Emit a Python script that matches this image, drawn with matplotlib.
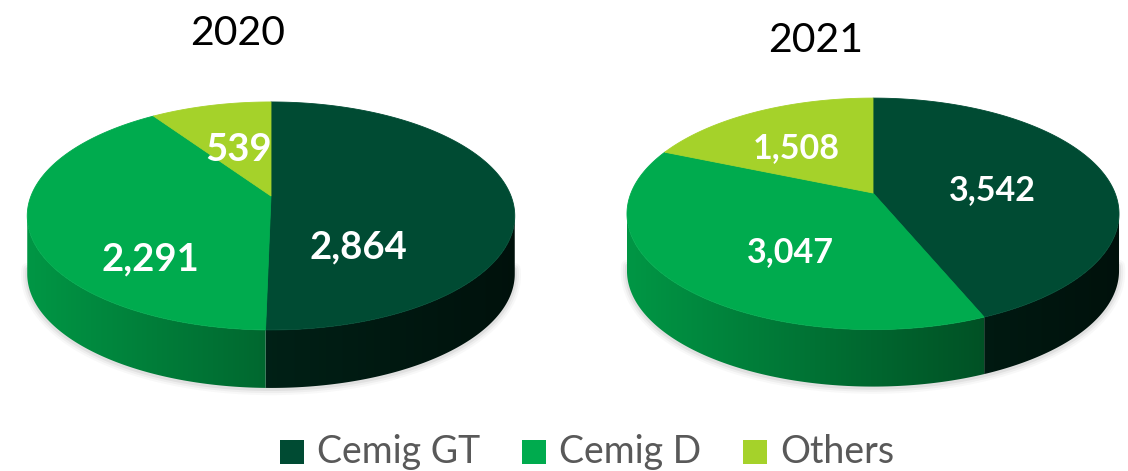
import numpy as np
import matplotlib
matplotlib.use("Agg")
import matplotlib.pyplot as plt
from matplotlib.patches import Polygon, Rectangle
from matplotlib.colors import to_rgb

# data
categories = ["Cemig GT", "Cemig D", "Others"]
years = ["2020", "2021"]
values_2020 = [2864, 2291, 539]
values_2021 = [3542, 3047, 1508]
colors = ["#004B33", "#00AB4E", "#A5D22A"]

# layout, in pixels of the 1128x471 canvas
W, H = 1128, 471
side_dark = [0.72, 1.0, 1.0]
pies = [
    dict(values=values_2020, title=years[0], cx=271, cy=196, sx=240, sy=110.5, p=0.175,
         depth=58, fs=27.5, title_xy=(238, 45), nudges=[(-33, 48), (-3, 45), (0, 0)]),
    dict(values=values_2021, title=years[1], cx=873, cy=193, sx=242, sy=112, p=0.18,
         depth=57, fs=24.5, title_xy=(816, 52), nudges=[(3, 6), (9, 15), (-15, -4)]),
]


def project(theta, r, pie):
    """perspective view of a point of the unit disc"""
    u = r * np.cos(theta)
    v = r * np.sin(theta)
    w = 1 + pie["p"] * v
    return pie["cx"] + pie["sx"] * u / w, pie["cy"] - pie["sy"] * v / w


def draw_pie(ax, pie):
    vals = np.array(pie["values"], dtype=float)
    spans = vals / vals.sum() * 2 * np.pi
    ends = np.pi / 2 - np.cumsum(spans)
    starts = ends + spans
    a = np.arcsin(pie["p"])
    front_lo, front_hi = -np.pi + a, -a
    hw = pie["sx"] / np.sqrt(1 - pie["p"] ** 2)
    depth = pie["depth"]

    # soft shadow under the rim
    th = np.linspace(front_lo - 0.05, front_hi + 0.05, 200)
    x, y = project(th, 1, pie)
    for lw, al in [(9, 0.04), (6, 0.06), (3, 0.09)]:
        ax.plot(x, y + depth + 1, color="#555555", lw=lw, alpha=al,
                solid_capstyle="round", zorder=1)

    # side walls with a left-to-right shade
    t = np.linspace(-1, 1, 256)
    shade = 0.6 - 0.28 * t
    for i, (a0, a1) in enumerate(zip(starts, ends)):
        lo, hi = max(a1, front_lo), min(a0, front_hi)
        if lo >= hi:
            continue
        th = np.linspace(lo, hi, 120)
        x, y = project(th, 1, pie)
        verts = np.r_[np.c_[x, y], np.c_[x[::-1], y[::-1] + depth]]
        poly = Polygon(verts, closed=True, facecolor="none", edgecolor="none")
        ax.add_patch(poly)
        base = np.array(to_rgb(colors[i])) * side_dark[i]
        grad = np.clip(shade[None, :, None] * base[None, None, :], 0, 1)
        ax.imshow(grad, extent=(pie["cx"] - hw, pie["cx"] + hw, y.max() + depth + 2, y.min() - 2),
                  aspect="auto", clip_path=poly, zorder=2, interpolation="bilinear")

    # top face
    for i, (a0, a1) in enumerate(zip(starts, ends)):
        th = np.linspace(a0, a1, 200)
        x, y = project(th, 1, pie)
        verts = np.r_[[[pie["cx"], pie["cy"]]], np.c_[x, y]]
        ax.add_patch(Polygon(verts, closed=True, facecolor=colors[i], edgecolor=colors[i],
                             lw=0.6, zorder=3))

    # value labels
    fs = pie["fs"]
    for a0, a1, v, (dx, dy) in zip(starts, ends, vals, pie["nudges"]):
        lx, ly = project((a0 + a1) / 2, 0.5, pie)
        ax.text(lx + dx, ly + dy + fs / 2, f"{int(v):,}", ha="center", va="baseline",
                color="white", fontsize=fs, fontweight="bold", family="Lato", zorder=4)

    ax.text(*pie["title_xy"], pie["title"], ha="center", va="baseline", fontsize=29.5,
            family="Lato", color="black")


fig = plt.figure(figsize=(W / 100, H / 100), dpi=100)
ax = fig.add_axes([0, 0, 1, 1])
ax.axis("off")

for pie in pies:
    draw_pie(ax, pie)

ax.set_xlim(0, W)
ax.set_ylim(H, 0)

# legend, laid out by hand
renderer = fig.canvas.get_renderer()
x = 280
for cat, col in zip(categories, colors):
    ax.add_patch(Rectangle((x, 440), 24, 24, facecolor=col, edgecolor="none"))
    txt = ax.text(x + 37, 463, cat, fontsize=27, family="Lato", color="#595959",
                  ha="left", va="baseline")
    x += 37 + txt.get_window_extent(renderer).width + 42

fig.savefig("out.png", dpi=100)
